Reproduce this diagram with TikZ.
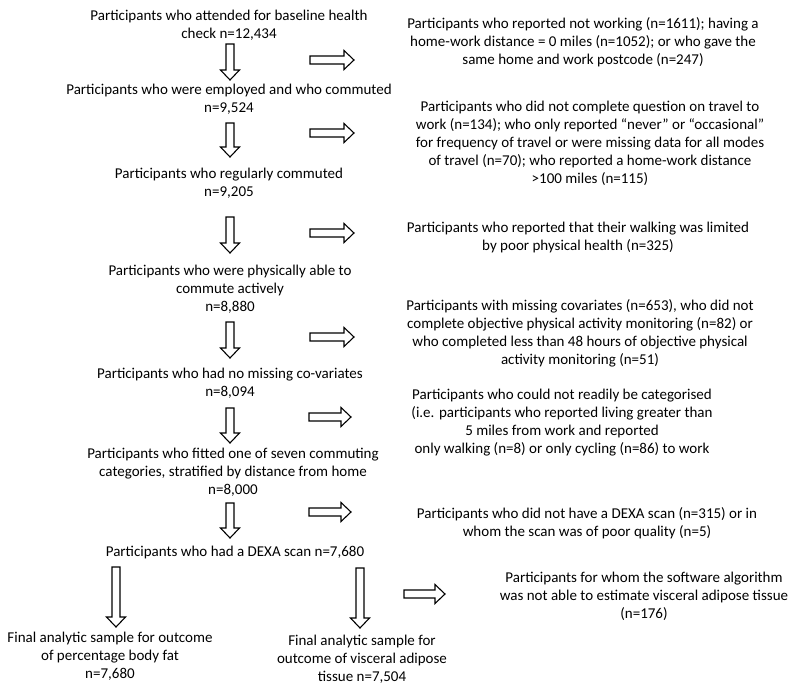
\documentclass[tikz,border=0pt]{standalone}
\usepackage{fontspec}
\setmainfont{Carlito}
\tikzset{
  txt/.style={align=center, inner sep=0pt, font=\fontsize{15}{18}\selectfont, text=black},
  blk/.style={draw=black, line width=1.1pt, fill=white, line join=miter}
}
% vertical block arrow: x, ytop, ybottom(tip)
\newcommand{\vblk}[3]{%
  \draw[blk] (#1-4,#2) -- (#1+4,#2) -- (#1+4,#3-10) -- (#1+9.5,#3-10) -- (#1,#3)
    -- (#1-9.5,#3-10) -- (#1-4,#3-10) -- cycle;}
% horizontal block arrow: xleft, xright(tip), ycenter
\newcommand{\hblk}[3]{%
  \draw[blk] (#1,#3-4) -- (#2-10,#3-4) -- (#2-10,#3-9.5) -- (#2,#3) -- (#2-10,#3+9.5)
    -- (#2-10,#3+4) -- (#1,#3+4) -- cycle;}
\begin{document}
\begin{tikzpicture}[x=1pt, y=-1pt]
\useasboundingbox (0,0) rectangle (800,691);
\fill[white] (0,0) rectangle (800,691);

% main column
\node[txt] (n1) at (229,25) {Participants who attended for baseline health\\check n=12,434};
\node[txt] (n2) at (229,99) {Participants who were employed and who commuted\\n=9,524};
\node[txt] (n3) at (229,183) {Participants who regularly commuted\\n=9,205};
\node[txt] (n4) at (230,289) {Participants who were physically able to\\commute actively\\n=8,880};
\node[txt] (n5) at (230,383) {Participants who had no missing co-variates\\n=8,094};
\node[txt] (n6) at (233,472) {Participants who fitted one of seven commuting\\categories, stratified by distance from home\\n=8,000};
\node[txt] (n7) at (235,552) {Participants who had a DEXA scan n=7,680};
\node[txt] (n8) at (110,656) {Final analytic sample for outcome\\of percentage body fat\\n=7,680};
\node[txt] (n9) at (362,659) {Final analytic sample for\\outcome of visceral adipose\\tissue n=7,504};

% exclusions
\node[txt] (r1) at (583,42) {Participants who reported not working (n=1611); having a\\home-work distance = 0 miles (n=1052); or who gave the\\same home and work postcode (n=247)};
\node[txt] (r2) at (590,143) {Participants who did not complete question on travel to\\work (n=134); who only reported “never” or “occasional”\\for frequency of travel or were missing data for all modes\\of travel (n=70); who reported a home-work distance\\>100 miles (n=115)};
\node[txt] (r3) at (578,237) {Participants who reported that their walking was limited\\by poor physical health (n=325)};
\node[txt] (r4) at (580,333) {Participants with missing covariates (n=653), who did not\\complete objective physical activity monitoring (n=82) or\\who completed less than 48 hours of objective physical\\activity monitoring (n=51)};
\node[txt] (r5) at (562,423) {Participants who could not readily be categorised\\(i.e. participants who reported living greater than\\5 miles from work and reported\\only walking (n=8) or only cycling (n=86) to work};
\node[txt] (r6) at (587,523) {Participants who did not have a DEXA scan (n=315) or in\\whom the scan was of poor quality (n=5)};
\node[txt] (r7) at (644,596) {Participants for whom the software algorithm\\was not able to estimate visceral adipose tissue\\(n=176)};

% down arrows
\vblk{230}{44}{80}
\vblk{230}{123}{157}
\vblk{230}{217}{253}
\vblk{230}{322}{358}
\vblk{230}{408}{443}
\vblk{230}{503}{538}
\vblk{116}{567}{627}
\vblk{360}{568}{628}

% right arrows
\hblk{310}{354}{60}
\hblk{310}{354}{133}
\hblk{310}{354}{233}
\hblk{310}{354}{337}
\hblk{309}{351}{417}
\hblk{309}{351}{512}
\hblk{404}{445}{594}
\end{tikzpicture}
\end{document}
